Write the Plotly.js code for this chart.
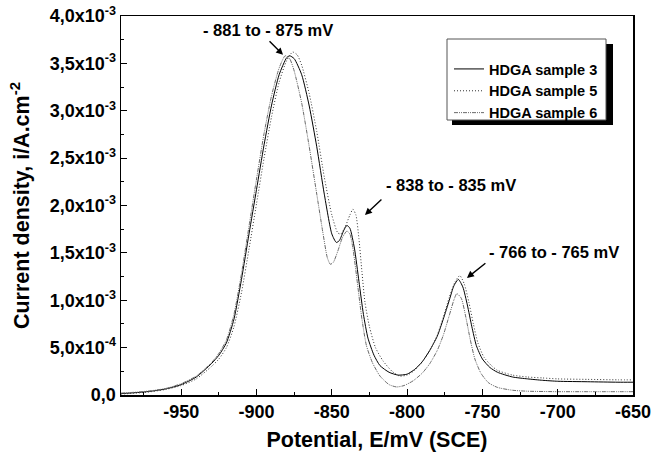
<!DOCTYPE html>
<html>
<head>
<meta charset="utf-8">
<script src="https://cdn.plot.ly/plotly-3.0.1.min.js"></script>
<style>html,body{margin:0;padding:0;background:#fff;}#chart{width:654px;height:460px;}</style>
</head>
<body>
<div id="chart"></div>
<script>
// ---- data (potential in mV vs SCE, current density in A/cm^2) ----
const s3_x = [-990,-980,-970,-960,-950,-940,-930,-925,-920,-915,-910,-905,-900,-895,-890,-885,-880,-878,-875,-870,-865,-860,-855,-850,-847,-845,-842,-840,-838,-835,-832,-829,-826,-822,-818,-812,-806,-800,-795,-790,-785,-780,-776,-772,-769,-766,-763,-760,-757,-754,-750,-745,-740,-730,-720,-710,-700,-680,-660,-650];
const s3_y = [0.015e-3,0.025e-3,0.04e-3,0.065e-3,0.11e-3,0.19e-3,0.33e-3,0.42e-3,0.55e-3,0.80e-3,1.22e-3,1.70e-3,2.17e-3,2.64e-3,3.06e-3,3.38e-3,3.56e-3,3.58e-3,3.55e-3,3.38e-3,3.05e-3,2.62e-3,2.12e-3,1.70e-3,1.61e-3,1.63e-3,1.74e-3,1.79e-3,1.76e-3,1.55e-3,1.20e-3,0.85e-3,0.60e-3,0.42e-3,0.31e-3,0.24e-3,0.21e-3,0.22e-3,0.27e-3,0.35e-3,0.47e-3,0.62e-3,0.80e-3,1.00e-3,1.15e-3,1.22e-3,1.14e-3,0.95e-3,0.72e-3,0.52e-3,0.38e-3,0.29e-3,0.24e-3,0.19e-3,0.17e-3,0.155e-3,0.145e-3,0.14e-3,0.135e-3,0.135e-3];

const s5_x = [-990,-980,-970,-960,-950,-940,-930,-925,-920,-915,-910,-905,-900,-895,-890,-885,-880,-876,-873,-870,-865,-860,-855,-850,-846,-844,-841,-838,-836,-834,-832,-830,-828,-825,-821,-816,-810,-805,-800,-795,-790,-785,-780,-776,-772,-768,-765,-762,-759,-756,-753,-749,-744,-740,-730,-720,-710,-700,-680,-660,-650];
const s5_y = [0.01e-3,0.02e-3,0.035e-3,0.06e-3,0.10e-3,0.17e-3,0.30e-3,0.38e-3,0.50e-3,0.72e-3,1.08e-3,1.54e-3,2.02e-3,2.50e-3,2.94e-3,3.30e-3,3.53e-3,3.62e-3,3.59e-3,3.48e-3,3.18e-3,2.78e-3,2.30e-3,1.90e-3,1.71e-3,1.70e-3,1.78e-3,1.90e-3,1.96e-3,1.90e-3,1.65e-3,1.30e-3,0.98e-3,0.72e-3,0.50e-3,0.36e-3,0.25e-3,0.20e-3,0.21e-3,0.26e-3,0.35e-3,0.47e-3,0.63e-3,0.82e-3,1.03e-3,1.20e-3,1.26e-3,1.17e-3,0.98e-3,0.75e-3,0.55e-3,0.40e-3,0.31e-3,0.26e-3,0.21e-3,0.19e-3,0.18e-3,0.17e-3,0.165e-3,0.16e-3,0.16e-3];

const s6_x = [-990,-980,-970,-960,-950,-940,-930,-925,-920,-915,-910,-905,-900,-895,-890,-885,-881,-878,-875,-870,-865,-860,-856,-853,-851,-849,-846,-843,-840,-838,-836,-833,-830,-827,-823,-818,-812,-807,-802,-796,-790,-785,-780,-776,-772,-769,-767,-764,-761,-758,-755,-751,-746,-740,-730,-720,-700,-680,-650];
const s6_y = [0.02e-3,0.03e-3,0.045e-3,0.07e-3,0.12e-3,0.20e-3,0.34e-3,0.44e-3,0.58e-3,0.85e-3,1.28e-3,1.78e-3,2.28e-3,2.76e-3,3.16e-3,3.45e-3,3.58e-3,3.55e-3,3.42e-3,3.08e-3,2.62e-3,2.12e-3,1.72e-3,1.45e-3,1.38e-3,1.40e-3,1.52e-3,1.66e-3,1.73e-3,1.70e-3,1.55e-3,1.18e-3,0.80e-3,0.52e-3,0.34e-3,0.20e-3,0.11e-3,0.085e-3,0.10e-3,0.15e-3,0.23e-3,0.33e-3,0.47e-3,0.63e-3,0.84e-3,1.00e-3,1.07e-3,1.02e-3,0.82e-3,0.58e-3,0.38e-3,0.23e-3,0.13e-3,0.08e-3,0.05e-3,0.04e-3,0.035e-3,0.035e-3,0.035e-3];

const seriesNames = ["HDGA sample 3", "HDGA sample 5", "HDGA sample 6"];

const xTickVals = [-950, -900, -850, -800, -750, -700, -650];
const xTickText = ["-950", "-900", "-850", "-800", "-750", "-700", "-650"];
const yTickVals = [0, 0.5e-3, 1.0e-3, 1.5e-3, 2.0e-3, 2.5e-3, 3.0e-3, 3.5e-3, 4.0e-3];
const yTickText = ["0,0","5,0x10<sup>-4</sup>","1,0x10<sup>-3</sup>","1,5x10<sup>-3</sup>","2,0x10<sup>-3</sup>","2,5x10<sup>-3</sup>","3,0x10<sup>-3</sup>","3,5x10<sup>-3</sup>","4,0x10<sup>-3</sup>"];

const peakLabels = ["- 881 to - 875 mV", "- 838 to - 835 mV", "- 766 to - 765 mV"];
const peakArrowX = [-882.4, -828, -760.3];
const peakArrowY = [3.59e-3, 1.90e-3, 1.235e-3];
const peakTextX = [-892.4, -815.6, -747];
const peakTextY = [3.852e-3, 2.216e-3, 1.509e-3];

// ---- layout geometry ----
const W = 654, H = 460;
const L = 121, R = 633, T = 16, B = 395;
const px2paperX = p => (p - L) / (R - L);
const px2paperY = p => (B - p) / (B - T);

const FONT = "Liberation Sans, Arial, sans-serif";
const bold = s => "<b>" + s + "</b>";

const traces = [
  {x: s3_x, y: s3_y, name: bold(seriesNames[0]), mode: "lines",
   line: {color: "#000000", width: 1, shape: "spline", smoothing: 0.6}},
  {x: s5_x, y: s5_y, name: bold(seriesNames[1]), mode: "lines",
   line: {color: "#333333", width: 1, dash: "1px,2px", shape: "spline", smoothing: 0.6}},
  {x: s6_x, y: s6_y, name: bold(seriesNames[2]), mode: "lines",
   line: {color: "#6a6a6a", width: 1, dash: "4px,1px,1px,1px,1px,1px", shape: "spline", smoothing: 0.6}}
];

const annotations = [];
for (let i = 0; i < peakLabels.length; i++) {
  annotations.push({x: peakTextX[i], y: peakTextY[i], xref: "x", yref: "y",
    text: bold(peakLabels[i]), showarrow: false,
    xanchor: i === 0 ? "center" : "left", yanchor: "middle",
    font: {family: FONT, size: 16.5, color: "#000"}});
}
const arrowTail = [[-15, -15], [18, -17], [20, -16]];
for (let i = 0; i < peakLabels.length; i++) {
  annotations.push({x: peakArrowX[i], y: peakArrowY[i], xref: "x", yref: "y",
    ax: arrowTail[i][0], ay: arrowTail[i][1], text: "", showarrow: true,
    arrowhead: 2, arrowsize: 1, arrowwidth: 1.4, arrowcolor: "#000", standoff: 0, startstandoff: 0});
}

// legend box with drop shadow
const shapes = [
  {type: "rect", xref: "paper", yref: "paper",
   x0: px2paperX(452), x1: px2paperX(613), y0: px2paperY(125), y1: px2paperY(44),
   fillcolor: "#000", line: {width: 0}, layer: "above"},
  {type: "rect", xref: "paper", yref: "paper",
   x0: px2paperX(447), x1: px2paperX(606), y0: px2paperY(120), y1: px2paperY(39),
   fillcolor: "#fff", line: {color: "#555", width: 1}, layer: "above"}
];

const layout = {
  width: W, height: H,
  margin: {l: L, r: W - R, t: T, b: H - B, pad: 0},
  paper_bgcolor: "#fff", plot_bgcolor: "#fff",
  font: {family: FONT, color: "#000"},
  showlegend: true,
  legend: {x: px2paperX(449), y: px2paperY(53), xanchor: "left", yanchor: "top",
    bgcolor: "rgba(0,0,0,0)", borderwidth: 0,
    font: {family: FONT, size: 14.5, color: "#000"},
    tracegroupgap: 0, itemwidth: 30},
  xaxis: {range: [-990, -650], showgrid: false, zeroline: false,
    showline: true, linecolor: "#000", linewidth: 1.5, mirror: true,
    ticks: "inside", ticklen: 6, tickwidth: 1.2, tickcolor: "#000",
    tickvals: xTickVals, ticktext: xTickText.map(bold),
    minor: {ticks: "inside", ticklen: 3, tickwidth: 1, dtick: 25, tick0: -975, tickcolor: "#000"},
    tickfont: {family: FONT, size: 18},
    title: {text: bold("Potential, E/mV (SCE)"), font: {family: FONT, size: 21.5}, standoff: 11}},
  yaxis: {range: [0, 4.0e-3], showgrid: false, zeroline: false,
    showline: true, linecolor: "#000", linewidth: 1.5, mirror: true,
    ticks: "inside", ticklen: 6, tickwidth: 1.2, tickcolor: "#000",
    tickvals: yTickVals, ticktext: yTickText.map(bold),
    minor: {ticks: "inside", ticklen: 3, tickwidth: 1, dtick: 2.5e-4, tick0: 0, tickcolor: "#000"},
    tickfont: {family: FONT, size: 18},
    title: {text: bold("Current density, i/A.cm<sup>-2</sup>"), font: {family: FONT, size: 21.5}, standoff: 14}},
  annotations: annotations,
  shapes: shapes
};

Plotly.newPlot("chart", traces, layout, {displayModeBar: false, staticPlot: true});
</script>
</body>
</html>
